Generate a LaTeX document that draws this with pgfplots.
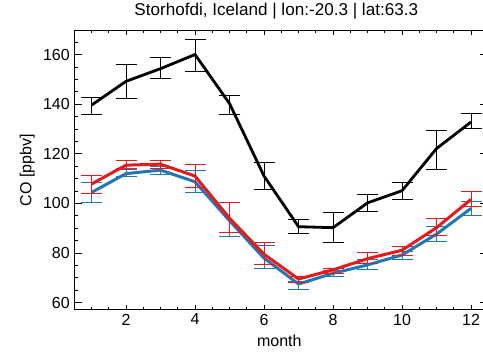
\documentclass[border=0pt]{standalone}
\usepackage{pgfplots}
\pgfplotsset{compat=1.18}
\usepackage{pgfplotstable}
\usepackage{fontspec}
\setmainfont{Liberation Sans}

\definecolor{cored}{RGB}{228,26,28}
\definecolor{coblue}{RGB}{31,120,180}

% month, value, error up, error down
\pgfplotstableread{
m v ep em
1 139.6 3.0 3.6
2 149.2 6.7 7.1
3 154.3 4.7 4.0
4 160.0 6.1 6.8
5 140.2 3.4 4.3
6 111.0 5.5 5.5
7 90.6 3.0 2.8
8 90.2 6.0 6.1
9 100.2 3.5 3.3
10 105.1 3.5 3.4
11 122.1 7.3 8.3
12 132.8 3.3 2.8
}\obs

\pgfplotstableread{
m v ep em
1 107.8 3.5 3.9
2 115.4 1.9 1.8
3 115.8 1.6 1.7
4 111.0 4.5 4.6
5 94.0 6.5 5.8
6 79.5 4.9 4.0
7 69.5 1.0 1.5
8 73.2 0.6 1.4
9 77.7 2.4 2.1
10 81.1 1.4 1.9
11 90.2 3.8 3.0
12 101.6 3.1 3.0
}\modred

\pgfplotstableread{
m v ep em
1 104.4 3.9 3.9
2 112.0 2.1 1.3
3 113.4 1.6 1.6
4 108.7 4.7 4.4
5 93.0 7.4 6.4
6 77.9 5.2 4.3
7 67.5 1.2 2.4
8 71.8 1.0 1.3
9 75.2 2.3 2.0
10 79.2 1.3 2.0
11 87.6 3.0 3.1
12 98.0 2.6 2.7
}\modblue

\pgfplotsset{
  errs/.style={
    error bars/.cd, y dir=both, y explicit,
    error bar style={line width=0.9pt, solid},
    error mark options={rotate=90, mark size=10.5pt, line width=0.9pt}
  }
}

\begin{document}
\begin{tikzpicture}
\begin{axis}[
  name=ax,
  scale only axis,
  width=414pt, height=278.6pt,
  xmin=0.5, xmax=12.5,
  ymin=57.3, ymax=169.6,
  xtick={0,2,...,12},
  ytick={40,60,...,180},
  minor x tick num=3,
  minor y tick num=3,
  tick align=inside,
  xtick style={/pgfplots/major tick length=4.5pt, /pgfplots/minor tick length=2.5pt},
  ytick style={/pgfplots/major tick length=8pt, /pgfplots/minor tick length=4pt},
  axis line style={line width=0.8pt},
  every tick/.style={black, line width=0.7pt},
  /pgf/number format/assume math mode=true,
  ticklabel style={font=\fontsize{16}{18}\selectfont},
  yticklabel style={xshift=-1pt},
  xticklabel style={yshift=-1pt},
  title={Storhofdi, Iceland | lon:-20.3 | lat:63.3},
  title style={font=\fontsize{17.1}{20}\selectfont, at={(axis description cs:0.5,1)}, anchor=base, yshift=9.4pt, xshift=-5pt},
  xlabel={month},
  xlabel style={font=\fontsize{16}{18}\selectfont, at={(axis description cs:0.5,0)}, anchor=base, yshift=-37.7pt, xshift=-2pt},
  ylabel={CO [ppbv]},
  ylabel style={font=\fontsize{16}{18}\selectfont, at={(axis description cs:-0.1135,0.5)}, anchor=center},
]
\addplot[coblue, line width=3pt, errs]
  table[x=m, y=v, y error plus=ep, y error minus=em] {\modblue};
\addplot[cored, line width=3pt, errs]
  table[x=m, y=v, y error plus=ep, y error minus=em] {\modred};
\addplot[black, line width=2.8pt, errs]
  table[x=m, y=v, y error plus=ep, y error minus=em] {\obs};
\end{axis}
\pgfresetboundingbox
\path[use as bounding box] ([shift={(-74.3pt,-43.7pt)}]ax.south west)
  rectangle ([shift={(408.7pt,309.3pt)}]ax.south west);
\end{tikzpicture}
\end{document}
